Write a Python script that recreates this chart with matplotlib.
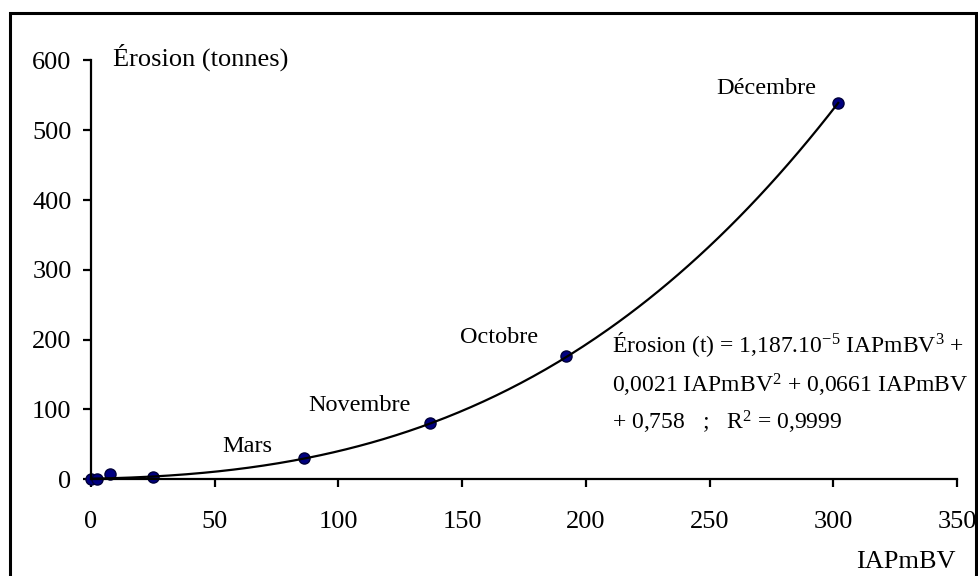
import matplotlib.pyplot as plt
import numpy as np
from matplotlib.patches import Rectangle

plt.rcParams['font.family'] = ['Liberation Serif', 'DejaVu Serif']
plt.rcParams['mathtext.fontset'] = 'custom'
plt.rcParams['mathtext.rm'] = 'Liberation Serif'
plt.rcParams['mathtext.it'] = 'Liberation Serif'
plt.rcParams['mathtext.default'] = 'rm'

# IAPmBV vs erosion (tonnes)
iap = [0.0, 2.5, 7.5, 25.0, 86.0, 137.0, 192.0, 302.0]
erosion = [1.0, 0.5, 7.0, 3.0, 31.0, 80.0, 176.0, 539.0]

# month labels and where they sit (data coords, text baseline centre)
month_names = ['Mars', 'Novembre', 'Octobre', 'Décembre']
label_x = [63.3, 108.5, 165.0, 273.0]
label_y = [38.7, 97.4, 195.0, 551.6]

# trend line coefficients (cubic, highest degree first)
coefs = [1.187e-5, 0.0021, 0.0661, 0.758]

xticks = [0, 50, 100, 150, 200, 250, 300, 350]
yticks = [0, 100, 200, 300, 400, 500, 600]

fig = plt.figure(figsize=(9.79, 5.76), dpi=100)
ax = fig.add_axes([0.093, 0.168, 0.8845, 0.727])

xx = np.linspace(0, max(iap), 300)
ax.plot(iap, erosion, 'o', ms=8, color='#000080', mec='#00003a', mew=1, zorder=2,
        clip_on=False)
ax.plot(xx, np.polyval(coefs, xx), color='black', lw=1.6, zorder=3)

for name, lx, ly in zip(month_names, label_x, label_y):
    ax.text(lx, ly, name, ha='center', va='baseline', fontsize=17.5)

ax.set_xlim(0, 350)
ax.set_ylim(0, 600)
ax.set_xticks(xticks)
ax.set_yticks(yticks)
ax.spines['top'].set_visible(False)
ax.spines['right'].set_visible(False)
for s in ['left', 'bottom']:
    ax.spines[s].set_linewidth(1.6)
ax.tick_params(axis='both', direction='out', length=6, width=1.6, labelsize=19)
ax.tick_params(axis='x', pad=17)
ax.tick_params(axis='y', pad=8)

fig.text(0.115, 0.887, 'Érosion (tonnes)', fontsize=19, va='baseline', ha='left')
fig.text(0.925, 0.014, 'IAPmBV', fontsize=19, va='baseline', ha='center')

eq_lines = [r'Érosion (t) = 1,187.10$^{\mathregular{-5}}$ IAPmBV$^{\mathregular{3}}$ +',
            r'0,0021 IAPmBV$^{\mathregular{2}}$ + 0,0661 IAPmBV',
            r'+ 0,758   ;   R$^{\mathregular{2}}$ = 0,9999']
eq_base = [0.3889, 0.3194, 0.2535]
for line, yb in zip(eq_lines, eq_base):
    fig.text(0.625, yb, line, fontsize=17, va='baseline', ha='left')

fig.patches.append(Rectangle((0.0105, -0.02), 0.986, 0.9975, transform=fig.transFigure,
                             fill=False, edgecolor='black', lw=2.2, clip_on=False))

fig.savefig('out.png', dpi=100)
